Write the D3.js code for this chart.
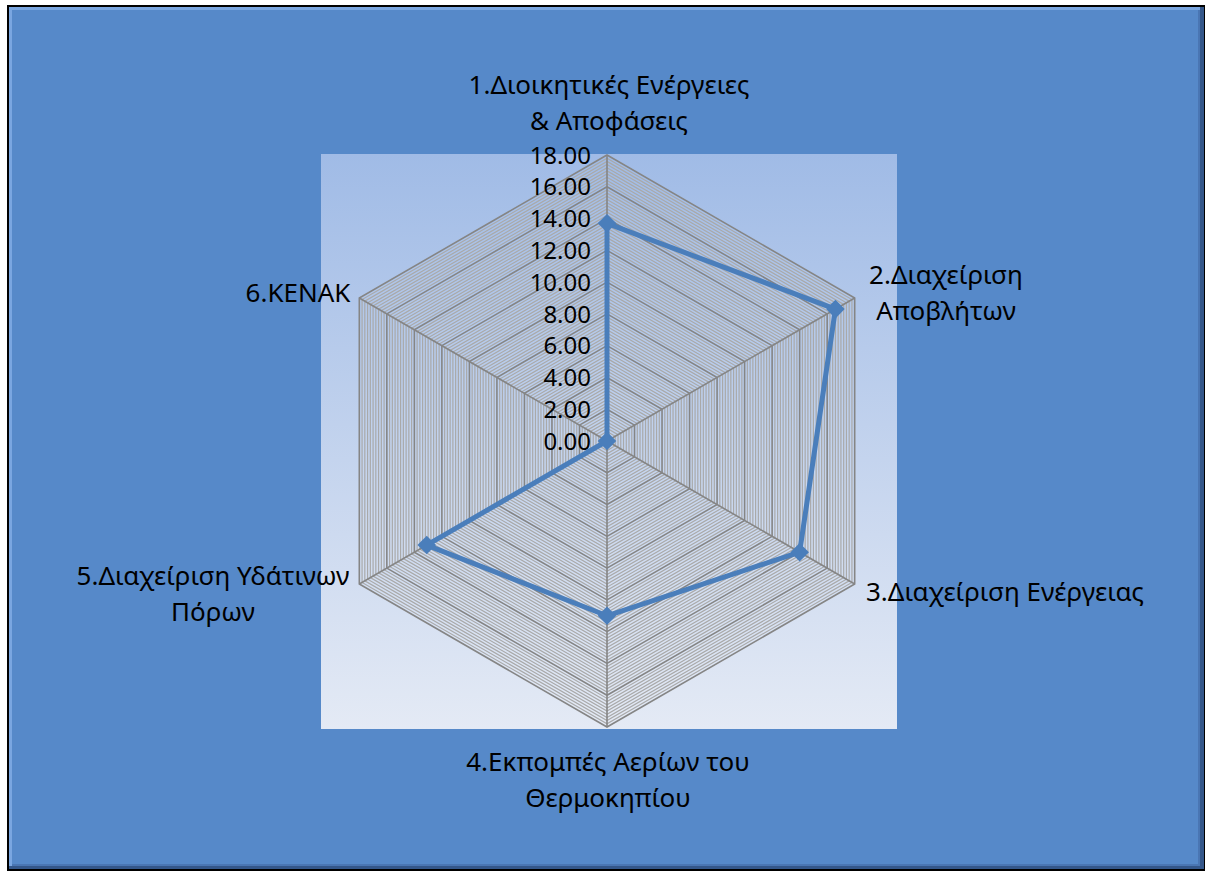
<!DOCTYPE html>
<html lang="el">
<head>
    <meta charset="UTF-8">
    <title>Radar chart</title>
    <script src="https://d3js.org/d3.v7.min.js"></script>
    <style>
        body { margin: 0; background: #fff; }
        text { font-family: "Noto Sans", "DejaVu Sans", sans-serif; fill: #000; }
    </style>
</head>
<body>
<svg id="chart"></svg>
<script>
    // data
    const categories = [
        ["1.Διοικητικές Ενέργειες", "& Αποφάσεις"],
        ["2.Διαχείριση", "Αποβλήτων"],
        ["3.Διαχείριση Ενέργειας"],
        ["4.Εκπομπές Αερίων του", "Θερμοκηπίου"],
        ["5.Διαχείριση Υδάτινων", "Πόρων"],
        ["6.ΚΕΝΑΚ"]
    ];
    const values = [13.7, 16.6, 14.0, 11.0, 13.1, 0.0];
    const tickValues = [0, 2, 4, 6, 8, 10, 12, 14, 16, 18];
    const minorStep = 0.2;

    const W = 1207, H = 873;
    const cx = 607, cy = 441, R = 286;

    const svg = d3.select("#chart").attr("width", W).attr("height", H);
    const defs = svg.append("defs");

    const plotGrad = defs.append("linearGradient").attr("id", "plotGrad")
        .attr("x1", 0).attr("y1", 0).attr("x2", 0).attr("y2", 1);
    plotGrad.append("stop").attr("offset", "0%").attr("stop-color", "#a0bbe6");
    plotGrad.append("stop").attr("offset", "100%").attr("stop-color", "#e4eaf5");

    // frame with a bevelled look
    svg.append("rect").attr("x", 7).attr("y", 5).attr("width", 1198).attr("height", 866).attr("fill", "#000");
    svg.append("rect").attr("x", 9).attr("y", 7).attr("width", 1195).attr("height", 862).attr("fill", "#34578a");
    svg.append("rect").attr("x", 9).attr("y", 7).attr("width", 1191).attr("height", 859).attr("fill", "#7aa6e0");
    svg.append("rect").attr("x", 12).attr("y", 10).attr("width", 1188).attr("height", 856).attr("fill", "#4a76b3");
    svg.append("rect").attr("x", 12).attr("y", 10).attr("width", 1186).attr("height", 854).attr("fill", "#5689c9");

    // plot area
    svg.append("rect").attr("x", 321).attr("y", 154).attr("width", 576).attr("height", 575)
        .attr("fill", "url(#plotGrad)");

    const r = d3.scaleLinear().domain([0, 18]).range([0, R]);
    const angle = d3.scaleLinear().domain([0, categories.length]).range([0, 2 * Math.PI]);
    const pt = (i, v) => [cx + r(v) * Math.sin(angle(i)), cy - r(v) * Math.cos(angle(i))];

    const g = svg.append("g");

    // minor + major gridlines
    const levels = d3.range(1, Math.round(18 / minorStep) + 1).map(k => +(k * minorStep).toFixed(2));
    const hexPath = v => d3.line()(d3.range(categories.length).map(i => pt(i, v))) + "Z";
    const minors = levels.filter(v => Math.abs(v / 2 - Math.round(v / 2)) > 1e-6);
    const majors = tickValues.filter(v => v > 0);

    g.selectAll(".minor").data(minors).enter().append("path")
        .attr("class", "minor")
        .attr("d", hexPath)
        .attr("fill", "none").attr("stroke", "#a9a9a9").attr("stroke-width", 1.2);

    g.selectAll(".major").data(majors).enter().append("path")
        .attr("class", "major")
        .attr("d", hexPath)
        .attr("fill", "none").attr("stroke", "#858585").attr("stroke-width", 1.6);

    // spokes
    g.selectAll(".spoke").data(categories).enter().append("line")
        .attr("x1", cx).attr("y1", cy)
        .attr("x2", (d, i) => pt(i, 18)[0]).attr("y2", (d, i) => pt(i, 18)[1])
        .attr("stroke", "#858585").attr("stroke-width", 1.6);

    // tick labels
    g.selectAll(".tick").data(tickValues).enter().append("text")
        .attr("x", cx - 16)
        .attr("y", d => cy - r(d))
        .attr("dy", "0.36em")
        .attr("text-anchor", "end")
        .style("font-size", "24px")
        .text(d => d3.format(".2f")(d));

    // series
    const linePts = values.map((v, i) => pt(i, v));
    g.append("path")
        .attr("d", d3.line()(linePts) + "Z")
        .attr("fill", "none").attr("stroke", "#4a7ebb").attr("stroke-width", 5)
        .attr("stroke-linejoin", "round");

    g.selectAll(".marker").data(linePts).enter().append("path")
        .attr("d", d3.symbol().type(d3.symbolDiamond2).size(220))
        .attr("transform", d => `translate(${d[0]},${d[1]})`)
        .attr("fill", "#4a7ebb");

    // category labels (anchor centre of block, line gap)
    const labelPos = [[609, 85], [946, 275], [1005, 592], [608, 762], [213, 576], [298, 293]];
    const lineGap = 36;
    const lab = svg.selectAll(".cat").data(categories).enter().append("text")
        .attr("text-anchor", "middle")
        .style("font-size", "26px");
    lab.selectAll("tspan").data((d, i) => d.map(s => ({ s, i }))).enter().append("tspan")
        .attr("x", d => labelPos[d.i][0])
        .attr("y", (d, j) => labelPos[d.i][1] + j * lineGap)
        .attr("dy", "0.36em")
        .text(d => d.s);
</script>
</body>
</html>
